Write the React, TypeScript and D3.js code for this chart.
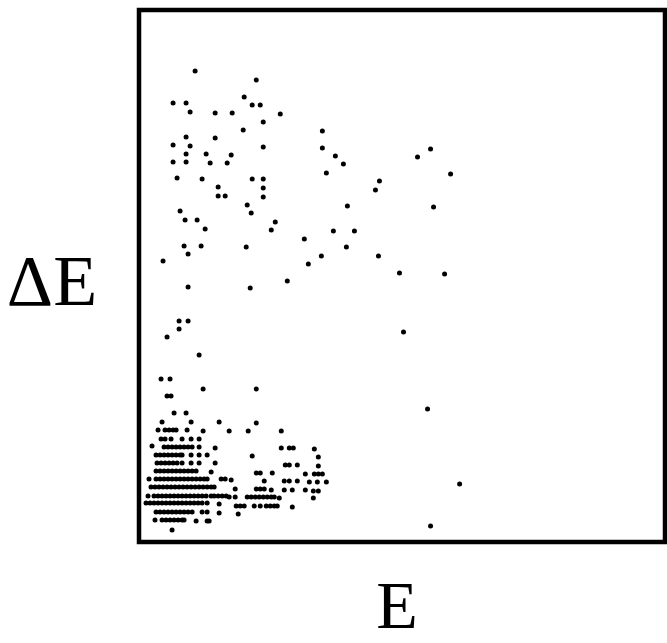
import React, { useEffect, useRef } from "react";
import * as d3 from "d3";

// E, ΔE in channels (origin at lower-left corner of the frame)
var sparse = [
  [56, 471], [117, 462], [34, 439], [47, 439], [105, 445], [113, 437], [121, 437],
  [51, 430], [76, 429], [93, 429], [141, 428], [124, 420], [104, 412], [183, 411],
  [47, 405], [76, 404], [34, 397], [51, 396], [124, 395], [183, 394], [47, 388],
  [67, 388], [92, 387], [34, 380], [47, 380], [71, 379], [88, 379], [187, 369],
  [38, 364], [63, 363], [113, 363], [124, 363], [196, 386], [204, 378], [278, 385],
  [291, 393], [311, 368], [79, 355], [79, 346], [86, 346], [124, 354], [124, 345],
  [108, 337], [112, 329], [41, 331], [46, 322], [58, 322], [66, 313], [136, 320],
  [132, 312], [165, 303], [45, 296], [62, 296], [107, 295], [49, 288], [182, 286],
  [169, 278], [24, 281], [148, 261], [49, 255], [111, 254], [40, 221], [49, 221],
  [40, 213], [28, 205], [60, 187], [240, 361], [236, 352], [208, 336], [294, 335],
  [194, 311], [215, 311], [207, 295], [239, 286], [260, 269], [305, 268], [264, 210],
  [288, 133], [320, 58], [291, 16]
];

var clusterRight = [
  [117, 153], [117, 119], [90, 111], [109, 111], [142, 111], [142, 94], [150, 94],
  [154, 94], [175, 93], [113, 86], [179, 85], [146, 77], [150, 77], [158, 77],
  [179, 76], [117, 69], [121, 69], [133, 69], [166, 68], [175, 68], [179, 68],
  [183, 68], [92, 62], [125, 61], [145, 61], [150, 61], [158, 61], [170, 60],
  [178, 60], [187, 60], [96, 53], [117, 53], [121, 53], [125, 53], [132, 52],
  [145, 52], [153, 52], [166, 52], [174, 51], [179, 51], [90, 45], [96, 45],
  [108, 45], [112, 45], [116, 45], [120, 45], [124, 45], [128, 45], [132, 45],
  [135, 45], [140, 44], [174, 44], [97, 36], [101, 36], [105, 36], [115, 36],
  [121, 36], [127, 36], [131, 36], [135, 36], [138, 36], [153, 35], [99, 28]
];

var clusterLeft = [
  [22, 163], [31, 163], [64, 153], [28, 146], [32, 146], [35, 129], [47, 129],
  [23, 120], [52, 120], [80, 120], [19, 112], [26, 112], [30, 112], [34, 112],
  [37, 112], [48, 112], [64, 111], [22, 103], [26, 103], [32, 103], [43, 103],
  [52, 103], [60, 103], [13, 96], [25, 95], [29, 95], [33, 95], [37, 95], [41, 95],
  [45, 95], [49, 95], [53, 95], [60, 95], [76, 94],
  [17, 87], [21, 87], [25, 87], [29, 87], [33, 87], [37, 87], [41, 87], [43, 87],
  [52, 87], [60, 87], [68, 87],
  [18, 79], [22, 79], [26, 79], [30, 79], [34, 79], [38, 79], [43, 79], [52, 79],
  [60, 79], [76, 79],
  [17, 71], [21, 71], [25, 71], [29, 71], [33, 71], [37, 71], [41, 71], [45, 71],
  [49, 71], [53, 71], [57, 71], [72, 70],
  [10, 63], [17, 63], [21, 63], [25, 63], [29, 63], [33, 63], [37, 63], [41, 63],
  [45, 63], [49, 63], [53, 63], [57, 63], [61, 63], [65, 63], [68, 63], [82, 63],
  [86, 63],
  [12, 55], [16, 55], [20, 55], [24, 55], [28, 55], [32, 55], [36, 55], [40, 55],
  [44, 55], [48, 55], [52, 55], [56, 55], [60, 55], [64, 55], [68, 55], [72, 55],
  [75, 55],
  [9, 46], [15, 46], [19, 46], [23, 46], [27, 46], [31, 46], [35, 46], [39, 46],
  [43, 46], [47, 46], [51, 46], [55, 46], [59, 46], [63, 46], [67, 46], [72, 46],
  [75, 46], [79, 46], [83, 46], [87, 46],
  [7, 39], [11, 39], [15, 39], [19, 39], [23, 39], [27, 39], [31, 39], [35, 39],
  [39, 39], [43, 39], [47, 39], [51, 39], [55, 39], [59, 39], [63, 39], [68, 39],
  [80, 38],
  [17, 30], [21, 30], [25, 30], [29, 30], [33, 30], [37, 30], [41, 30], [45, 30],
  [49, 30], [53, 30], [63, 30], [68, 30], [80, 29],
  [16, 22], [23, 22], [27, 22], [31, 22], [35, 22], [39, 22], [43, 22], [45, 22],
  [57, 21], [68, 21], [70, 21], [33, 12]
];

var xLabel = "E";
var yLabel = "ΔE";

function App() {
  var ref = useRef(null);

  useEffect(() => {
    document.body.style.margin = "0";
    var w = 667, h = 643;
    var margin = { top: 10, right: 2, bottom: 101, left: 139 };

    var svg = d3.select(ref.current).attr("width", w).attr("height", h);
    svg.selectAll("*").remove();

    var x = d3.scaleLinear().domain([0, 525]).range([margin.left, w - margin.right]);
    var y = d3.scaleLinear().domain([0, 532]).range([h - margin.bottom, margin.top]);

    var data = sparse.concat(clusterRight, clusterLeft);

    svg.append("g")
      .selectAll("circle")
      .data(data)
      .join("circle")
      .attr("cx", (d) => x(d[0]))
      .attr("cy", (d) => y(d[1]))
      .attr("r", 2.5)
      .attr("fill", "#000");

    // frame
    svg.append("rect")
      .attr("x", x(0))
      .attr("y", y(532))
      .attr("width", x(525) - x(0))
      .attr("height", y(0) - y(532))
      .attr("fill", "none")
      .attr("stroke", "#000")
      .attr("stroke-width", 4.5);

    svg.append("text")
      .attr("x", 397)
      .attr("y", 628)
      .attr("text-anchor", "middle")
      .attr("font-family", "'Liberation Serif', 'DejaVu Serif', serif")
      .attr("font-size", 68)
      .text(xLabel);

    svg.append("text")
      .attr("x", 52)
      .attr("y", 305)
      .attr("text-anchor", "middle")
      .attr("font-family", "'Liberation Serif', 'DejaVu Serif', serif")
      .attr("font-size", 72)
      .text(yLabel);
  }, []);

  return <svg ref={ref} style={{ position: "absolute", left: 0, top: 0 }}></svg>;
}

export default App;
